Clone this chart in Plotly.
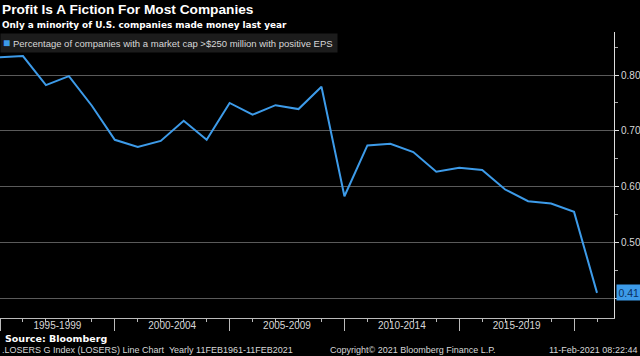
import plotly.graph_objects as go

years = list(range(1995, 2022))
pct_positive_eps = [0.832, 0.834, 0.782, 0.798, 0.745, 0.684, 0.671, 0.682, 0.718, 0.684,
                    0.750, 0.729, 0.746, 0.739, 0.779, 0.583, 0.674, 0.677, 0.662, 0.627,
                    0.634, 0.630, 0.595, 0.574, 0.570, 0.555, 0.410]
period_bounds = [1995, 2000, 2005, 2010, 2015, 2020]
period_mids = [1997.5, 2002.5, 2007.5, 2012.5, 2017.5]
period_labels = ["1995-1999", "2000-2004", "2005-2009", "2010-2014", "2015-2019"]
y_ticks = [0.40, 0.50, 0.60, 0.70, 0.80]
y_tick_labels = ["", "0.50", "0.60", "0.70", "0.80"]
series_name = "Percentage of companies with a market cap >$250 million with positive EPS"

LINE = "#3d9be9"
FONT = "Liberation Sans"

fig = go.Figure()
fig.add_trace(go.Scatter(x=years, y=pct_positive_eps, mode="lines",
                         line=dict(color=LINE, width=2), showlegend=False,
                         hoverinfo="skip"))
# invisible trace for the label axis
fig.add_trace(go.Scatter(x=[years[0]], y=[pct_positive_eps[0]], xaxis="x2",
                         mode="markers", marker=dict(opacity=0), showlegend=False,
                         hoverinfo="skip"))

x_range = [1995, 2021.74]
fig.update_layout(
    width=640, height=356,
    margin=dict(l=0, r=26, t=32, b=38),
    paper_bgcolor="black", plot_bgcolor="black",
    font=dict(family=FONT, color="#d8d8d8", size=10),
    showlegend=False,
    xaxis=dict(range=x_range, tickvals=period_bounds, ticktext=[""] * len(period_bounds),
               ticks="outside", ticklen=12, tickcolor="#bbbbbb", tickwidth=1,
               minor=dict(dtick=1, tick0=1995, ticks="outside", ticklen=3, tickcolor="#bbbbbb"),
               showgrid=False, zeroline=False, showline=True, linecolor="#bbbbbb", linewidth=1),
    xaxis2=dict(range=x_range, overlaying="x", side="bottom", anchor="y",
                tickvals=period_mids, ticktext=period_labels, ticks="",
                tickfont=dict(size=10, color="#d8d8d8"),
                showgrid=False, zeroline=False, showline=False),
    yaxis=dict(range=[0.365, 0.877], side="right", tickvals=y_ticks, ticktext=y_tick_labels,
               ticks="outside", ticklen=4, tickcolor="#dddddd",
               minor=dict(dtick=0.05, tick0=0.35, ticks="outside", ticklen=3, tickcolor="#aaaaaa"),
               showgrid=True, gridcolor="#5a5a5a", gridwidth=1,
               zeroline=False, showline=True, linecolor="#dddddd", linewidth=1,
               tickfont=dict(size=10, color="#d8d8d8")),
)

fig.add_annotation(xref="paper", yref="paper", x=0.0, y=1.077, xanchor="left", yanchor="middle",
                   text="<b>Profit Is A Fiction For Most Companies</b>", showarrow=False,
                   font=dict(family=FONT, size=13.7, color="white"))
fig.add_annotation(xref="paper", yref="paper", x=0.0, y=1.025, xanchor="left", yanchor="middle",
                   text="<b>Only a minority of U.S. companies made money last year</b>", showarrow=False,
                   font=dict(family="DejaVu Sans", size=8.9, color="white"))
# legend box
fig.add_annotation(xref="paper", yref="paper", x=0.0, y=1 - (43 - 32) / 286, xanchor="left",
                   yanchor="middle", showarrow=False, bgcolor="#1c1c1c", borderpad=2,
                   text=f"<span style='color:{LINE};font-size:12px'>■</span> {series_name} ",
                   font=dict(family=FONT, size=9.5, color="#d8d8d8"))
fig.add_annotation(xref="paper", yref="y", x=1.0, y=pct_positive_eps[-1], xanchor="left",
                   yanchor="middle", text="0.41", showarrow=False, bgcolor=LINE,
                   font=dict(size=10.5, color="#0b2f5e"), borderpad=1.5, xshift=2)
fig.add_annotation(xref="paper", yref="paper", x=0.005, y=-0.072, xanchor="left", yanchor="middle",
                   text="<b>Source: Bloomberg</b>", showarrow=False,
                   font=dict(family="DejaVu Sans", size=9.5, color="white"))
fig.add_annotation(xref="paper", yref="paper", x=0.0, y=-0.113, xanchor="left", yanchor="middle",
                   text=".LOSERS G Index (LOSERS) Line Chart  Yearly 11FEB1961-11FEB2021",
                   showarrow=False, font=dict(size=9, color="#d8d8d8"))
fig.add_annotation(xref="paper", yref="paper", x=0.535, y=-0.113, xanchor="left", yanchor="middle",
                   text="Copyright© 2021 Bloomberg Finance L.P.",
                   showarrow=False, font=dict(size=9, color="#d8d8d8"))
fig.add_annotation(xref="paper", yref="paper", x=1.04, y=-0.113, xanchor="right", yanchor="middle",
                   text="11-Feb-2021 08:22:44",
                   showarrow=False, font=dict(size=9, color="#d8d8d8"))

fig.write_html("out.html", config={"displayModeBar": False},
               post_script="document.body.style.margin='0';document.body.style.overflow='hidden';")
